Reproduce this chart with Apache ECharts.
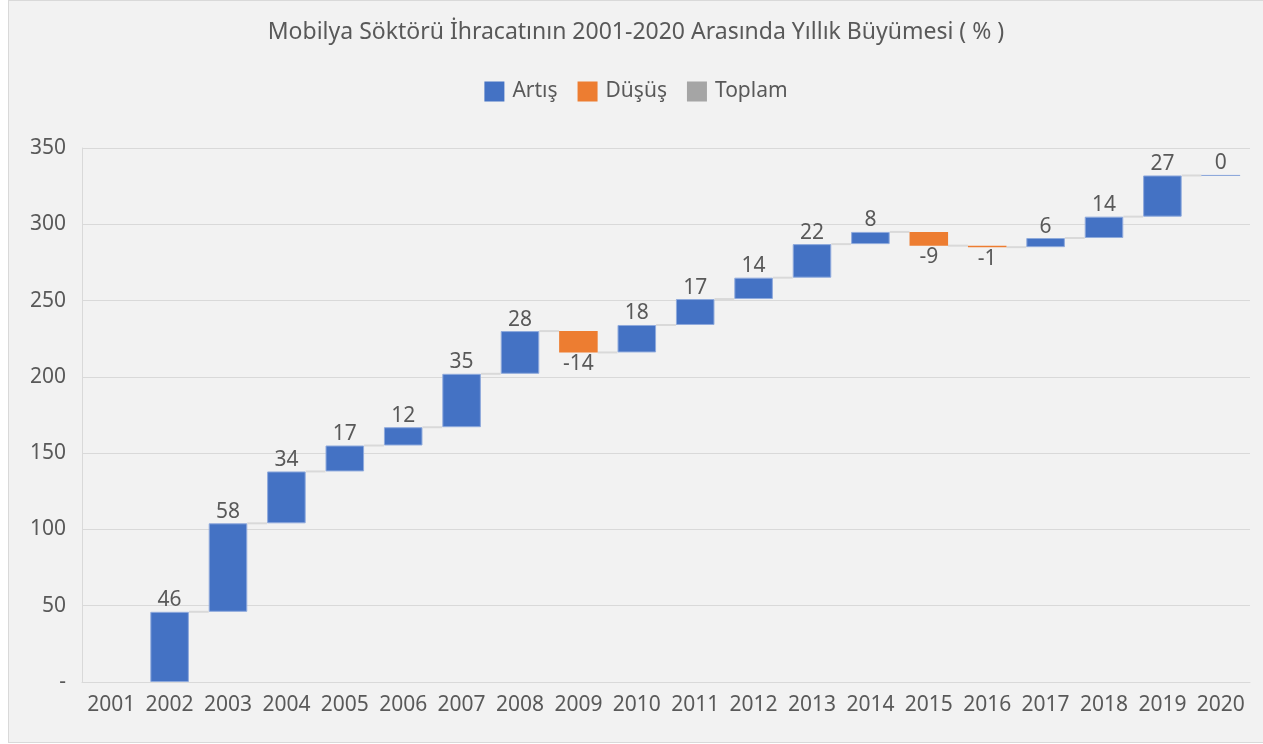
<!DOCTYPE html>
<html>
<head>
<meta charset="utf-8">
<script src="https://cdn.jsdelivr.net/npm/echarts@6/dist/echarts.min.js"></script>
<style>
  html, body { margin: 0; padding: 0; background: #ffffff; }
  #chart {
    position: absolute;
    left: 8px; top: 0;
    width: 1255px; height: 743px;
    box-sizing: border-box;
    border: 1px solid #d9d9d9;
    border-right: none;
    background: #f2f2f2;
  }
</style>
</head>
<body>
<div id="chart"></div>
<script>
const years = ['2001','2002','2003','2004','2005','2006','2007','2008','2009','2010',
  '2011','2012','2013','2014','2015','2016','2017','2018','2019','2020']
// yıllık değişim (2001 boş, 2020 = 0)
const changes = [null, 46, 58, 34, 17, 12, 35, 28, -14, 18, 17, 14, 22, 8, -9, -1, 6, 14, 27, 0]
const yTicks = [0, 50, 100, 150, 200, 250, 300, 350]

// waterfall: taban + artış / düşüş
const base = [], up = [], down = [], levels = []
let level = 0
changes.forEach((v, i) => {
  if (v === null) {
    base.push('-'); up.push('-'); down.push('-')
  } else if (v >= 0) {
    base.push(level); up.push(v); down.push('-')
    level += v
  } else {
    level += v
    base.push(level); up.push('-'); down.push(-v)
  }
  levels.push(level)
})
// bağlantı çizgileri (2001 boş olduğu için atlanır)
const connectors = levels.slice(0, -1).map((l, i) => [i, l]).filter(d => changes[d[0]] !== null)

const chart = echarts.init(document.getElementById('chart'))
const font = 'Noto Sans'
const txt = '#595959'
const fs = 21

chart.setOption({
  backgroundColor: 'transparent',
  textStyle: { fontFamily: font },
  title: {
    text: 'Mobilya Söktörü İhracatının 2001-2020 Arasında Yıllık Büyümesi ( % )',
    left: 'center', top: 15,
    textStyle: { color: txt, fontSize: 23, fontWeight: 'normal', fontFamily: font },
  },
  legend: {
    top: 75, left: 'center',
    itemWidth: 20, itemHeight: 20, itemGap: 20,
    icon: 'rect',
    itemStyle: { borderWidth: 0 },
    textStyle: { color: txt, fontSize: fs, fontFamily: font, padding: [0, 0, 0, 3] },
    data: ['Artış', 'Düşüş', 'Toplam'],
  },
  grid: { left: 73, right: 13, top: 147, bottom: 60 },
  xAxis: {
    type: 'category',
    data: years,
    axisLine: { lineStyle: { color: '#d9d9d9', width: 1 } },
    axisTick: { show: false },
    axisLabel: { color: txt, fontSize: fs, margin: 13, fontFamily: font, interval: 0 },
  },
  yAxis: {
    type: 'value',
    min: 0, max: 350, interval: 50,
    axisLine: { show: true, lineStyle: { color: '#d9d9d9' } },
    splitLine: { lineStyle: { color: '#d9d9d9' } },
    axisLabel: {
      color: txt, fontSize: fs, margin: 16, fontFamily: font,
      formatter: v => (v === 0 ? '-' : yTicks.includes(v) ? String(v) : ''),
    },
  },
  series: [
    {
      name: 'base', type: 'bar', stack: 'w', data: base,
      itemStyle: { color: 'transparent' }, silent: true,
      barCategoryGap: '34%',
    },
    {
      name: 'Artış', type: 'bar', stack: 'w', data: up,
      itemStyle: { color: '#4472c4', borderColor: '#8faadc', borderWidth: 1 },
      label: {
        show: true, position: 'top', distance: 1,
        color: txt, fontSize: fs, fontFamily: font,
      },
    },
    {
      name: 'Düşüş', type: 'bar', stack: 'w', data: down,
      itemStyle: { color: '#ed7d31' },
      label: {
        show: true, position: 'bottom', distance: 1,
        color: txt, fontSize: fs, fontFamily: font,
        formatter: p => '-' + p.value,
      },
    },
    {
      name: 'Toplam', type: 'bar', stack: 'w', data: [],
      itemStyle: { color: '#a5a5a5' },
    },
    {
      name: 'connector', type: 'custom', data: connectors, silent: true, z: 1,
      renderItem: (params, api) => {
        const i = api.value(0)
        const p1 = api.coord([i, api.value(1)])
        const p2 = api.coord([i + 1, api.value(1)])
        const bw = api.size([1, 0])[0] * 0.33
        return {
          type: 'line',
          shape: { x1: p1[0] + bw, y1: p1[1], x2: p2[0] - bw, y2: p2[1] },
          style: { stroke: '#d9d9d9', lineWidth: 2 },
        }
      },
    },
  ],
})
</script>
</body>
</html>
